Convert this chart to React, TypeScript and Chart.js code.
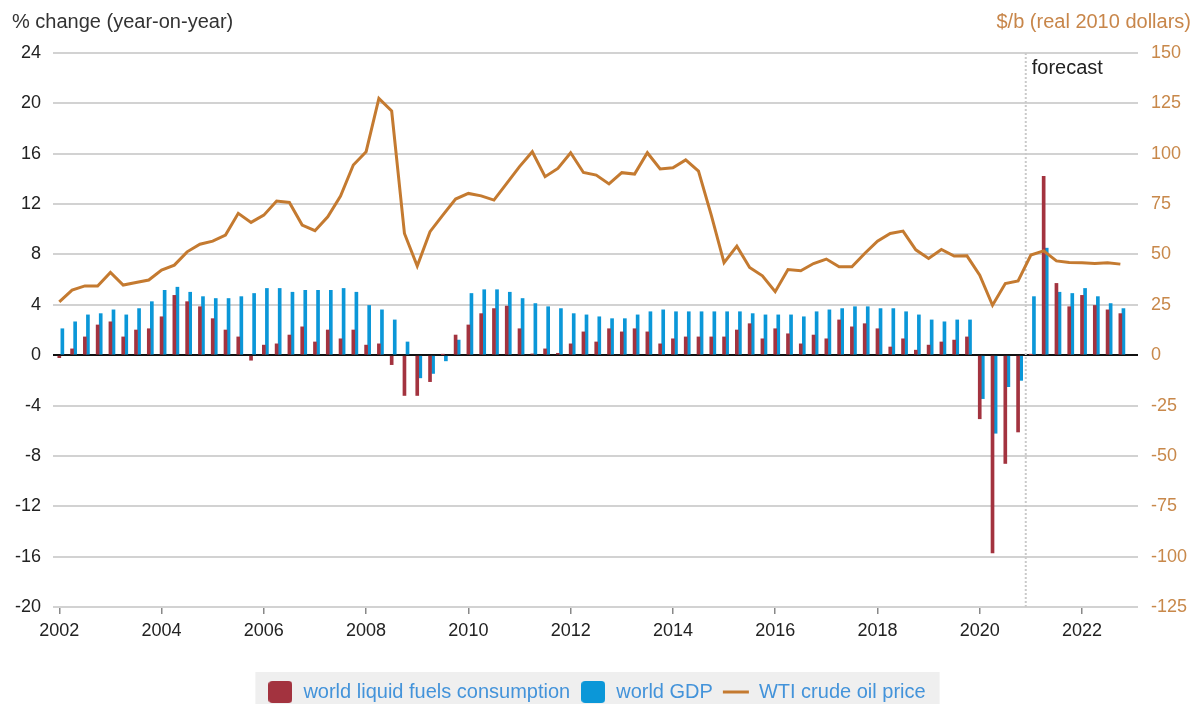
import React, { useEffect, useRef } from 'react';
import { Chart, registerables } from 'chart.js';

Chart.register(...registerables);

// ---- data (quarterly, 2002Q1 .. 2022Q4) ----
const firstYear = 2002;
const yearTicks = [2002, 2004, 2006, 2008, 2010, 2012, 2014, 2016, 2018, 2020, 2022];
const forecastStart = 2020.9;

const liquidFuels = [
  -0.2, 0.5, 1.45, 2.4, 2.65, 1.45, 2.0, 2.1, 3.05, 4.75, 4.25, 3.85,
  2.9, 2.0, 1.45, -0.4, 0.8, 0.9, 1.6, 2.25, 1.05, 2.0, 1.3, 2.0,
  0.8, 0.9, -0.75, -3.2, -3.2, -2.1, 0.05, 1.6, 2.4, 3.3, 3.7, 3.9,
  2.1, 0.1, 0.5, 0.15, 0.9, 1.85, 1.05, 2.1, 1.85, 2.1, 1.85, 0.9,
  1.3, 1.45, 1.45, 1.45, 1.45, 2.0, 2.5, 1.3, 2.1, 1.7, 0.9, 1.6,
  1.3, 2.8, 2.25, 2.5, 2.1, 0.65, 1.3, 0.4, 0.8, 1.05, 1.2, 1.45,
  -5.05, -15.7, -8.6, -6.1, 0.05, 14.2, 5.7, 3.85, 4.75, 3.95, 3.6, 3.3,
];

const worldGdp = [
  2.1, 2.65, 3.2, 3.3, 3.6, 3.2, 3.7, 4.25, 5.15, 5.4, 5.0, 4.65,
  4.5, 4.5, 4.65, 4.9, 5.3, 5.3, 5.0, 5.15, 5.15, 5.15, 5.3, 5.0,
  3.95, 3.6, 2.8, 1.05, -1.8, -1.45, -0.45, 1.2, 4.9, 5.2, 5.2, 5.0,
  4.5, 4.1, 3.85, 3.7, 3.3, 3.2, 3.05, 2.9, 2.9, 3.2, 3.45, 3.6,
  3.45, 3.45, 3.45, 3.45, 3.45, 3.45, 3.3, 3.2, 3.2, 3.2, 3.05, 3.45,
  3.6, 3.7, 3.85, 3.85, 3.7, 3.7, 3.45, 3.2, 2.8, 2.65, 2.8, 2.8,
  -3.45, -6.2, -2.5, -2.0, 4.65, 8.5, 5.0, 4.9, 5.3, 4.65, 4.1, 3.7,
];

const wtiPrice = [
  26.5, 32.3, 34.4, 34.3, 41.1, 34.8, 36.1, 37.3, 42.2, 44.7, 51.3, 55.1,
  56.6, 59.6, 70.4, 65.9, 69.5, 76.5, 75.8, 64.6, 61.8, 68.7, 79.0, 94.4,
  101.0, 127.5, 121.2, 60.4, 44.2, 61.3, 69.5, 77.5, 80.3, 79.1, 77.0, 85.3,
  93.6, 101.0, 88.6, 92.7, 100.5, 90.7, 89.4, 85.0, 90.6, 89.9, 100.5, 92.4,
  93.0, 96.9, 91.4, 69.5, 45.9, 54.1, 43.5, 39.4, 31.5, 42.5, 41.9, 45.5,
  47.7, 43.9, 43.9, 50.5, 56.6, 60.4, 61.6, 52.3, 48.0, 52.5, 49.2, 49.3,
  39.7, 24.8, 35.6, 36.9, 49.7, 51.8, 46.8, 46.0, 45.9, 45.5, 45.9, 45.2,
];

const leftTitle = '% change (year-on-year)';
const rightTitle = '$/b (real 2010 dollars)';
const forecastLabel = 'forecast';

const RED = '#a3333f';
const BLUE = '#0b97d8';
const ORANGE = '#c47a30';
const FONT = "'Liberation Sans', Arial, sans-serif";

const quarterX = (i: number) => firstYear + i / 4;

function makeBox(color: string) {
  const c = document.createElement('canvas');
  c.width = 24;
  c.height = 22;
  const g = c.getContext('2d')!;
  g.fillStyle = color;
  g.beginPath();
  (g as any).roundRect(0, 0, 24, 22, 4);
  g.fill();
  return c;
}

export default function App() {
  const ref = useRef<HTMLCanvasElement | null>(null);

  useEffect(() => {
    if (!ref.current) return;
    const redBox = makeBox(RED);
    const blueBox = makeBox(BLUE);

    const decorPlugin = {
      id: 'decor',
      beforeDraw(chart: any) {
        const { ctx } = chart;
        const boxes = chart.legend?.legendHitBoxes || [];
        if (boxes.length) {
          const left = Math.min(...boxes.map((b: any) => b.left)) - 12;
          const right = Math.max(...boxes.map((b: any) => b.left + b.width)) + 14;
          const top = chart.legend.top;
          ctx.save();
          ctx.fillStyle = '#efefef';
          ctx.fillRect(left, top, right - left, chart.height - top);
          ctx.restore();
        }
      },
      beforeDatasetsDraw(chart: any) {
        const { ctx, chartArea } = chart;
        const x = chart.scales.x.getPixelForValue(forecastStart);
        ctx.save();
        ctx.strokeStyle = '#c9c9c9';
        ctx.lineWidth = 2;
        ctx.setLineDash([2, 2]);
        ctx.beginPath();
        ctx.moveTo(x, chartArea.top);
        ctx.lineTo(x, chartArea.bottom);
        ctx.stroke();
        ctx.restore();
      },
      afterDraw(chart: any) {
        const { ctx, chartArea } = chart;
        ctx.save();
        ctx.font = `20px ${FONT}`;
        ctx.textBaseline = 'middle';
        ctx.fillStyle = '#333333';
        ctx.textAlign = 'left';
        ctx.fillText(leftTitle, 12, 22);
        ctx.fillStyle = '#c8864a';
        ctx.textAlign = 'right';
        ctx.fillText(rightTitle, chart.width - 2, 22);
        const x = chart.scales.x.getPixelForValue(forecastStart);
        ctx.fillStyle = '#222222';
        ctx.textAlign = 'left';
        ctx.fillText(forecastLabel, x + 6, chartArea.top + 15);
        ctx.restore();
      },
    };

    const chart = new Chart(ref.current, {
      type: 'bar',
      data: {
        datasets: [
          {
            type: 'bar',
            label: 'world liquid fuels consumption',
            data: liquidFuels.map((v, i) => ({ x: quarterX(i), y: v })),
            backgroundColor: RED,
            barThickness: 3,
            grouped: false,
            yAxisID: 'y',
            order: 1,
          } as any,
          {
            type: 'bar',
            label: 'world GDP',
            data: worldGdp.map((v, i) => ({ x: quarterX(i) + 0.06, y: v })),
            backgroundColor: BLUE,
            barThickness: 3,
            grouped: false,
            yAxisID: 'y',
            order: 1,
          } as any,
          {
            type: 'line',
            label: 'WTI crude oil price',
            data: wtiPrice.map((v, i) => ({ x: quarterX(i), y: v })),
            borderColor: ORANGE,
            backgroundColor: ORANGE,
            borderWidth: 3,
            pointRadius: 0,
            tension: 0,
            yAxisID: 'y2',
            order: -1,
          } as any,
        ],
      },
      options: {
        animation: false,
        responsive: true,
        maintainAspectRatio: false,
        layout: { padding: { top: 53, left: 0, right: 0, bottom: 8 } },
        scales: {
          x: {
            type: 'linear',
            min: 2001.877,
            max: 2023.095,
            offset: false,
            afterBuildTicks: (scale: any) => {
              scale.ticks = yearTicks.map((v) => ({ value: v }));
            },
            afterFit: (scale: any) => {
              scale.height = 65;
            },
            ticks: {
              callback: (v: any) => String(v),
              color: '#222222',
              font: { family: FONT, size: 18 },
              padding: 6,
              maxRotation: 0,
              autoSkip: false,
            },
            grid: {
              drawOnChartArea: false,
              drawTicks: true,
              tickLength: 7,
              color: '#888888',
              lineWidth: 1.5,
              offset: false,
            },
            border: { display: false },
          },
          y: {
            type: 'linear',
            position: 'left',
            min: -20,
            max: 24,
            afterBuildTicks: (scale: any) => {
              const t: any[] = [];
              for (let v = -20; v <= 24; v += 4) t.push({ value: v });
              scale.ticks = t;
            },
            afterFit: (scale: any) => {
              scale.width = 53;
            },
            ticks: {
              color: '#222222',
              font: { family: FONT, size: 18 },
              padding: 12,
            },
            grid: {
              drawTicks: false,
              color: (c: any) => (c.tick && c.tick.value === 0 ? '#111111' : '#d2d2d2'),
              lineWidth: 2,
            },
            border: { display: false },
          },
          y2: {
            type: 'linear',
            position: 'right',
            min: -125,
            max: 150,
            afterBuildTicks: (scale: any) => {
              const t: any[] = [];
              for (let v = -125; v <= 150; v += 25) t.push({ value: v });
              scale.ticks = t;
            },
            afterFit: (scale: any) => {
              scale.width = 55;
            },
            ticks: {
              color: '#c8884a',
              font: { family: FONT, size: 18 },
              padding: 13,
            },
            grid: { drawOnChartArea: false, drawTicks: false },
            border: { display: false },
          },
        },
        plugins: {
          tooltip: { enabled: false },
          legend: {
            position: 'bottom',
            labels: {
              usePointStyle: true,
              pointStyleWidth: 26,
              boxHeight: 20,
              padding: 10,
              color: '#4393da',
              font: { family: FONT, size: 20 },
              sort: (a: any, b: any) => a.datasetIndex - b.datasetIndex,
              generateLabels: (ch: any) => {
                const items = (Chart.defaults.plugins.legend.labels as any).generateLabels(ch);
                items.forEach((it: any) => {
                  if (it.datasetIndex === 0) it.pointStyle = redBox;
                  else if (it.datasetIndex === 1) it.pointStyle = blueBox;
                  else {
                    it.pointStyle = 'line';
                    it.strokeStyle = ORANGE;
                    it.lineWidth = 3;
                  }
                });
                return items;
              },
            },
          },
        },
      },
      plugins: [decorPlugin],
    } as any);

    return () => chart.destroy();
  }, []);

  return (
    <div style={{ position: 'fixed', left: 0, top: 0, width: 1193, height: 704, overflow: 'hidden', background: '#fff' }}>
      <div style={{ position: 'relative', width: 1193, height: 720 }}>
        <canvas ref={ref} />
      </div>
    </div>
  );
}
